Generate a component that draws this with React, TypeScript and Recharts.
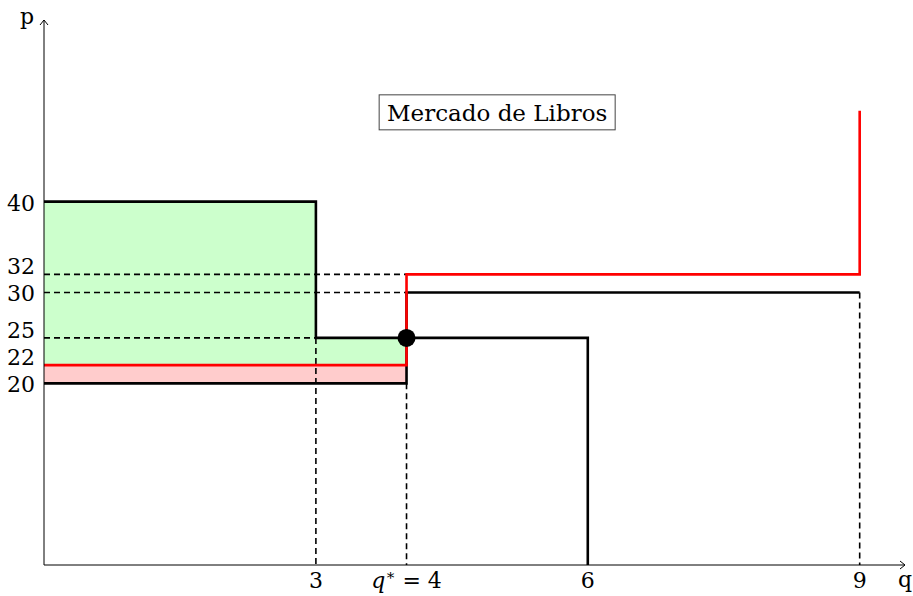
import { ComposedChart, Line, XAxis, YAxis, ReferenceArea, ReferenceLine, ReferenceDot } from "recharts"

// curvas de oferta y demanda (vértices de las escaleras)
const demand = [
  { q: 0, p: 40 },
  { q: 3, p: 40 },
  { q: 3, p: 25 },
  { q: 6, p: 25 },
  { q: 6, p: 0 },
]
const supply = [
  { q: 0, p: 20 },
  { q: 4, p: 20 },
  { q: 4, p: 30 },
  { q: 9, p: 30 },
]
const supplyTax = [
  { q: 0, p: 22 },
  { q: 4, p: 22 },
  { q: 4, p: 32 },
  { q: 9, p: 32 },
  { q: 9, p: 50 },
]

// líneas de guía punteadas
const guides = [
  { q1: 0, p1: 32, q2: 4, p2: 32 },
  { q1: 0, p1: 30, q2: 4, p2: 30 },
  { q1: 0, p1: 25, q2: 3, p2: 25 },
  { q1: 3, p1: 25, q2: 3, p2: 0 },
  { q1: 4, p1: 20, q2: 4, p2: 0 },
  { q1: 9, p1: 30, q2: 9, p2: 0 },
]

// excedentes
const greenAreas = [
  { q1: 0, q2: 3, p1: 22, p2: 40 },
  { q1: 3, q2: 4, p1: 22, p2: 25 },
]
const pinkAreas = [{ q1: 0, q2: 4, p1: 20, p2: 22 }]

const equilibrium = { q: 4, p: 25 }
const title = { q: 5, p: 50, text: "Mercado de Libros" }

const xTicks = [3, 4, 6, 9]
const yTicks = [20, 22, 25, 30, 32, 40]
// etiquetas que en el original van un poco más arriba
const raisedTicks = [22, 25, 32]
const xMax = 9.5
const yMax = 60

const FONT = "'DejaVu Serif', serif"
const FS = 22

function XTick(props: any) {
  const { x, y, payload } = props
  if (payload.value === 4) {
    return (
      <text x={x} y={y} dy="0.71em" textAnchor="middle" fontFamily={FONT} fontSize={FS} fill="#000">
        <tspan fontStyle="italic">q</tspan>
        <tspan dy={-8} fontSize={15}>∗</tspan>
        <tspan dy={8}> = 4</tspan>
      </text>
    )
  }
  return (
    <text x={x} y={y} dy="0.71em" textAnchor="middle" fontFamily={FONT} fontSize={FS} fill="#000">
      {payload.value}
    </text>
  )
}

function YTick(props: any) {
  const { x, y, payload } = props
  const shift = raisedTicks.includes(payload.value) ? -8 : 1
  return (
    <text x={x} y={y + shift} dy="0.36em" textAnchor="end" fontFamily={FONT} fontSize={FS} fill="#000">
      {payload.value}
    </text>
  )
}

export default function App() {
  return (
    <div style={{ position: "absolute", left: 0, top: 0, background: "#fff" }}>
      <ComposedChart width={913} height={596} margin={{ top: 20, right: 8, left: 0, bottom: 0 }}>
        <XAxis
          type="number"
          dataKey="q"
          domain={[0, xMax]}
          ticks={xTicks}
          interval={0}
          tickLine={false}
          tickSize={0}
          tickMargin={7}
          axisLine={{ stroke: "#000", strokeWidth: 1 }}
          tick={<XTick />}
          height={31}
          allowDataOverflow
        />
        <YAxis
          type="number"
          dataKey="p"
          domain={[0, yMax]}
          ticks={yTicks}
          interval={0}
          tickLine={false}
          tickSize={0}
          tickMargin={9}
          axisLine={{ stroke: "#000", strokeWidth: 1 }}
          tick={<YTick />}
          width={44}
          allowDataOverflow
        />

        {greenAreas.map((a, i) => (
          <ReferenceArea key={"g" + i} x1={a.q1} x2={a.q2} y1={a.p1} y2={a.p2} fill="#ccffcc" fillOpacity={1} stroke="none" />
        ))}
        {pinkAreas.map((a, i) => (
          <ReferenceArea key={"r" + i} x1={a.q1} x2={a.q2} y1={a.p1} y2={a.p2} fill="#ffcccc" fillOpacity={1} stroke="none" />
        ))}

        {guides.map((g, i) => (
          <ReferenceLine
            key={"d" + i}
            segment={[
              { x: g.q1, y: g.p1 },
              { x: g.q2, y: g.p2 },
            ]}
            stroke="#000"
            strokeWidth={1.6}
            strokeDasharray="6 4"
          />
        ))}

        <Line data={demand} dataKey="p" type="linear" stroke="#000" strokeWidth={2.6} dot={false} isAnimationActive={false} strokeLinejoin="miter" />
        <Line data={supply} dataKey="p" type="linear" stroke="#000" strokeWidth={2.6} dot={false} isAnimationActive={false} strokeLinejoin="miter" />
        <Line data={supplyTax} dataKey="p" type="linear" stroke="#ff0000" strokeWidth={2.6} dot={false} isAnimationActive={false} strokeLinejoin="miter" />

        <ReferenceDot x={equilibrium.q} y={equilibrium.p} r={9} fill="#000" stroke="none" />

        <ReferenceDot
          x={title.q}
          y={title.p}
          r={0}
          shape={(p: any) => (
            <g>
              <rect x={p.cx - 118} y={p.cy - 16} width={236} height={35} fill="#fff" stroke="#444" strokeWidth={1} />
              <text x={p.cx} y={p.cy + 2} dy="0.36em" textAnchor="middle" fontFamily={FONT} fontSize={23} fill="#000">
                {title.text}
              </text>
            </g>
          )}
        />

        <ReferenceDot
          x={0}
          y={yMax}
          r={0}
          shape={(p: any) => (
            <g>
              <path d={`M${p.cx - 4},${p.cy + 5} L${p.cx},${p.cy} L${p.cx + 4},${p.cy + 5}`} fill="none" stroke="#000" strokeWidth={1} />
              <text x={p.cx - 17} y={p.cy} dy="0.2em" textAnchor="middle" fontFamily={FONT} fontSize={FS} fill="#000">
                p
              </text>
            </g>
          )}
        />
        <ReferenceDot
          x={xMax}
          y={0}
          r={0}
          shape={(p: any) => (
            <g>
              <path d={`M${p.cx - 5},${p.cy - 4} L${p.cx},${p.cy} L${p.cx - 5},${p.cy + 4}`} fill="none" stroke="#000" strokeWidth={1} />
              <text x={p.cx} y={p.cy + 6} dy="0.71em" textAnchor="middle" fontFamily={FONT} fontSize={FS} fill="#000">
                q
              </text>
            </g>
          )}
        />
      </ComposedChart>
    </div>
  )
}
